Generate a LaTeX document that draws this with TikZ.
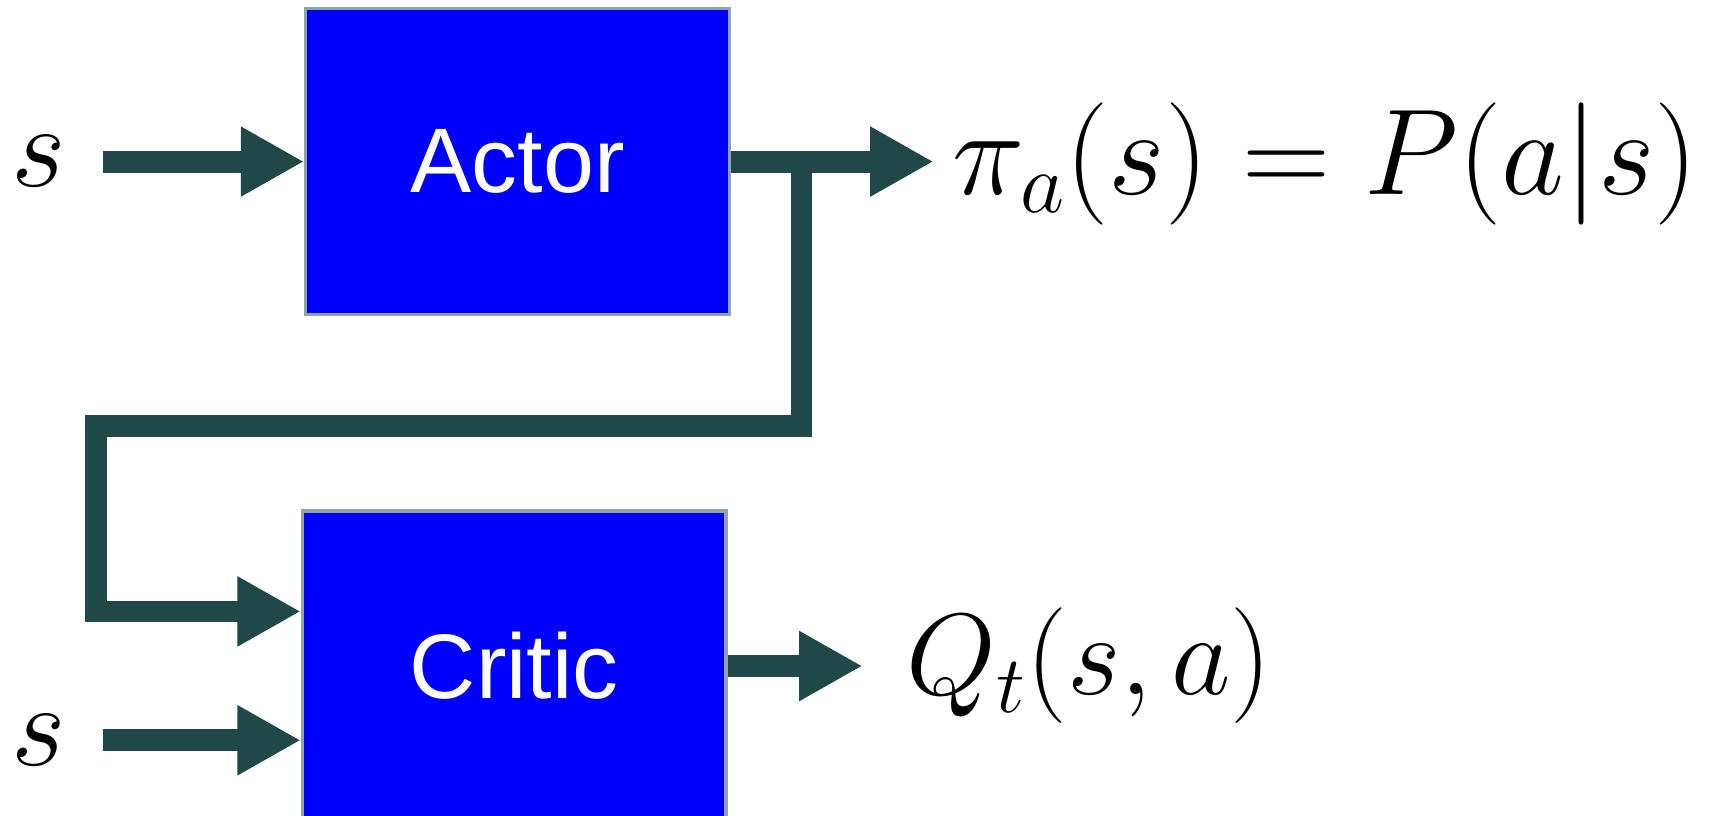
\RequirePackage{fix-cm}
\documentclass[tikz,border=0pt]{standalone}
\usepackage{fontspec}
\usepackage{amsmath}
\usepackage{tikz}
\usetikzlibrary{positioning,arrows.meta}
\setsansfont{Liberation Sans}
\definecolor{BlockBlue}{HTML}{0000FF}
\definecolor{BlockEdge}{HTML}{8FA3A8}
\definecolor{FlowSlate}{HTML}{214848}
\tikzset{
  block/.style={draw=BlockEdge,fill=BlockBlue,line width=1.5pt,
    minimum width=194pt,minimum height=140pt,
    font=\sffamily\fontsize{42}{48}\selectfont,text=white,inner sep=0pt},
  flow/.style={draw=FlowSlate,line width=10pt,
    -{Triangle[length=29pt,width=30pt]}},
  feed/.style={flow,line join=miter},
  sig/.style={inner sep=0pt,font=\fontsize{54}{62}\selectfont},
  formula/.style={inner sep=0pt,anchor=west,font=\fontsize{56}{64}\selectfont},
}

\begin{document}
\begin{tikzpicture}[x=0.5pt,y=-0.5pt]
  \useasboundingbox (0,0) rectangle (1568,747);
  \node[block] (actor) at (474,148) {Actor};
  \node[block,minimum height=142pt] (critic) at (471,610) {Critic};
  \node[sig] (sa) at (35,148) {$s$};
  \node[sig] (sb) at (35,678) {$s$};
  \node[formula] (pi) at (872,150) {$\pi_a(s) = P(a|s)$};
  \node[formula,font=\fontsize{53}{60}\selectfont] (q) at (830,610) {$Q_t(s,a)$};
  \coordinate (tap) at (734,148);
  \coordinate (fbleft) at (88,390);
  \coordinate (fbin) at ([yshift=25pt]critic.west);
  \draw[flow,shorten <=17pt] (sa.east) -- (actor.west);
  \draw[flow,shorten >=8.5pt] (actor.east) -- (pi.west |- actor.east);
  \draw[feed] (tap) |- (fbleft) |- (fbin);
  \draw[flow,shorten <=17pt] (sb.east) -- (sb.east -| critic.west);
  \draw[flow,shorten >=20pt] (critic.east) -- (q.west);
\end{tikzpicture}
\end{document}
